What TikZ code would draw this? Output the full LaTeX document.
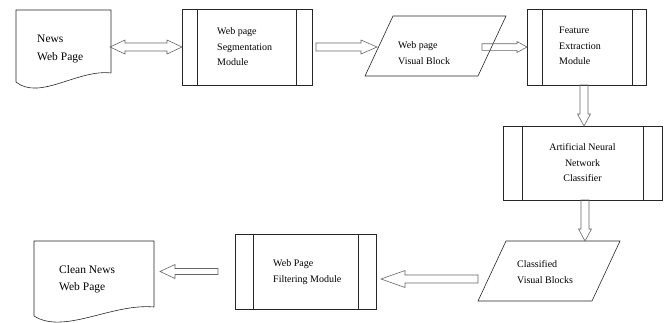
\documentclass[tikz,border=0pt]{standalone}
\usepackage{fontspec}
\setmainfont{Liberation Serif}
\usetikzlibrary{calc}
\tikzset{
  shapebox/.style={rectangle, inner sep=0pt, outer sep=0pt},
  procbox/.style={shapebox, draw=black!85, line width=0.6pt},
  outline/.style={draw=black!85, line width=0.6pt},
  blockarr/.style={draw=black!60, line width=0.6pt, line join=miter},
  boxtxt/.style={inner sep=0pt, align=left, font=\fontsize{10}{15.5}\selectfont},
  midtxt/.style={inner sep=0pt, align=left, font=\fontsize{10}{16.5}\selectfont},
  doctxt/.style={inner sep=0pt, align=left, font=\fontsize{11.5}{17.5}\selectfont}
}
\newcommand\blkarrow[5]{%
  \path ($(#2)!#5!(#1)$) coordinate (bkn);
  \draw[blockarr] ($(#1)!#3!90:(#2)$) -- ($(bkn)!#3!90:(#2)$) -- ($(bkn)!#4!90:(#2)$) -- (#2)
    -- ($(bkn)!#4!-90:(#2)$) -- ($(bkn)!#3!-90:(#2)$) -- ($(#1)!#3!-90:(#2)$) -- cycle;}
\newcommand\dblarrow[5]{%
  \path ($(#1)!#5!(#2)$) coordinate (bkna) ($(#2)!#5!(#1)$) coordinate (bknb);
  \draw[blockarr] (#1) -- ($(bkna)!#4!90:(#2)$) -- ($(bkna)!#3!90:(#2)$) -- ($(bknb)!#3!-90:(#1)$)
    -- ($(bknb)!#4!-90:(#1)$) -- (#2) -- ($(bknb)!#4!90:(#1)$) -- ($(bknb)!#3!90:(#1)$)
    -- ($(bkna)!#3!-90:(#2)$) -- ($(bkna)!#4!-90:(#2)$) -- cycle;}
\newcommand\docoutline[1]{%
  \draw[outline] (#1.south east) -- (#1.north east) -- (#1.north west) -- ($(#1.south west)+(0,9)$)
    .. controls ($(#1.south east)!0.75!(#1.south west)+(0,28)$) and ($(#1.south east)!0.35!(#1.south west)+(0,-4)$) .. (#1.south east);}
\newcommand\paraoutline[1]{%
  \draw[outline] ($(#1.north west)+(14,0)$) -- ($(#1.north east)+(14,0)$) -- ($(#1.south east)+(-14,0)$) -- ($(#1.south west)+(-14,0)$) -- cycle;}
\newcommand\sidebars[3]{%
  \draw[outline] ([xshift=#2]#1.north west) -- ([xshift=#2]#1.south west);
  \draw[outline] ([xshift=-#3]#1.north east) -- ([xshift=-#3]#1.south east);}
\begin{document}
\begin{tikzpicture}[x=1pt,y=-1pt]
\useasboundingbox (0,0) rectangle (668,322);
% shapes
\node[shapebox, minimum width=95pt, minimum height=63pt] (doc1) at (63.5,41.5) {};
\node[procbox, minimum width=130pt, minimum height=76pt] (b1) at (247,47) {};
\node[shapebox, minimum width=113pt, minimum height=60pt] (vb1) at (435.5,46) {};
\node[procbox, minimum width=119pt, minimum height=76pt] (b2) at (586.5,47) {};
\node[procbox, minimum width=159pt, minimum height=74pt] (b3) at (582.5,163) {};
\node[shapebox, minimum width=114pt, minimum height=60pt] (vb2) at (549,271) {};
\node[procbox, minimum width=141pt, minimum height=75pt] (b4) at (305.5,271.5) {};
\node[shapebox, minimum width=120pt, minimum height=66pt] (doc2) at (94,274) {};
\docoutline{doc1}
\docoutline{doc2}
\paraoutline{vb1}
\paraoutline{vb2}
\sidebars{b1}{15pt}{16pt}
\sidebars{b2}{15pt}{14pt}
\sidebars{b3}{19pt}{19pt}
\sidebars{b4}{18pt}{18pt}
% texts
\node[doctxt, anchor=west] (doc1t) at ($(doc1.west)+(21,7.5)$) {News\\Web Page};
\node[boxtxt, anchor=west] (b1t) at ($(b1.west)+(35,0)$) {Web page\\Segmentation\\Module};
\node[midtxt, anchor=west] (vb1t) at ($(vb1.west)+(19,7)$) {Web page\\Visual Block};
\node[boxtxt, anchor=west] (b2t) at ($(b2.west)+(32,-1)$) {Feature\\Extraction\\Module};
\node[boxtxt, align=center] (b3t) at (b3.center) {Artificial Neural\\Network\\Classifier};
\node[midtxt, anchor=west] (vb2t) at ($(vb2.west)+(25,1)$) {Classified\\Visual Blocks};
\node[midtxt, anchor=west] (b4t) at ($(b4.west)+(38,0.5)$) {Web Page\\Filtering Module};
\node[doctxt, anchor=west] (doc2t) at ($(doc2.west)+(25,5)$) {Clean News\\Web Page};
% connectors
\coordinate (a1s) at ($(doc1.east |- b1.west)+(-1,0)$);
\dblarrow{a1s}{b1.west}{4pt}{7pt}{15pt}
\coordinate (a2s) at ($(b1.east)+(4,0)$);
\coordinate (a2e) at ($(b1.east -| vb1.west)+(-2,0)$);
\blkarrow{a2s}{a2e}{4pt}{7pt}{16pt}
\coordinate (a3s) at ($(b2.west -| vb1.east)+(-10,0)$);
\blkarrow{a3s}{b2.west}{3.3pt}{5.5pt}{10pt}
\coordinate (a4s) at ($(b2.south)+(-2.5,0)$);
\coordinate (a4e) at (a4s |- b3.north);
\blkarrow{a4s}{a4e}{4pt}{6.5pt}{12pt}
\coordinate (a5s) at ($(b3.south)+(2.5,0)$);
\coordinate (a5e) at (a5s |- vb2.north);
\blkarrow{a5s}{a5e}{4pt}{6.5pt}{12pt}
\coordinate (a6s) at ($(vb2.west)+(-14,8)$);
\coordinate (a6e) at ($(a6s -| b4.east)+(5,0)$);
\blkarrow{a6s}{a6e}{4pt}{8.5pt}{24pt}
\coordinate (a7s) at ($(b4.west)+(-17,0)$);
\coordinate (a7e) at ($(a7s -| doc2.east)+(6,0)$);
\blkarrow{a7s}{a7e}{3pt}{7pt}{15pt}
\end{tikzpicture}
\end{document}
